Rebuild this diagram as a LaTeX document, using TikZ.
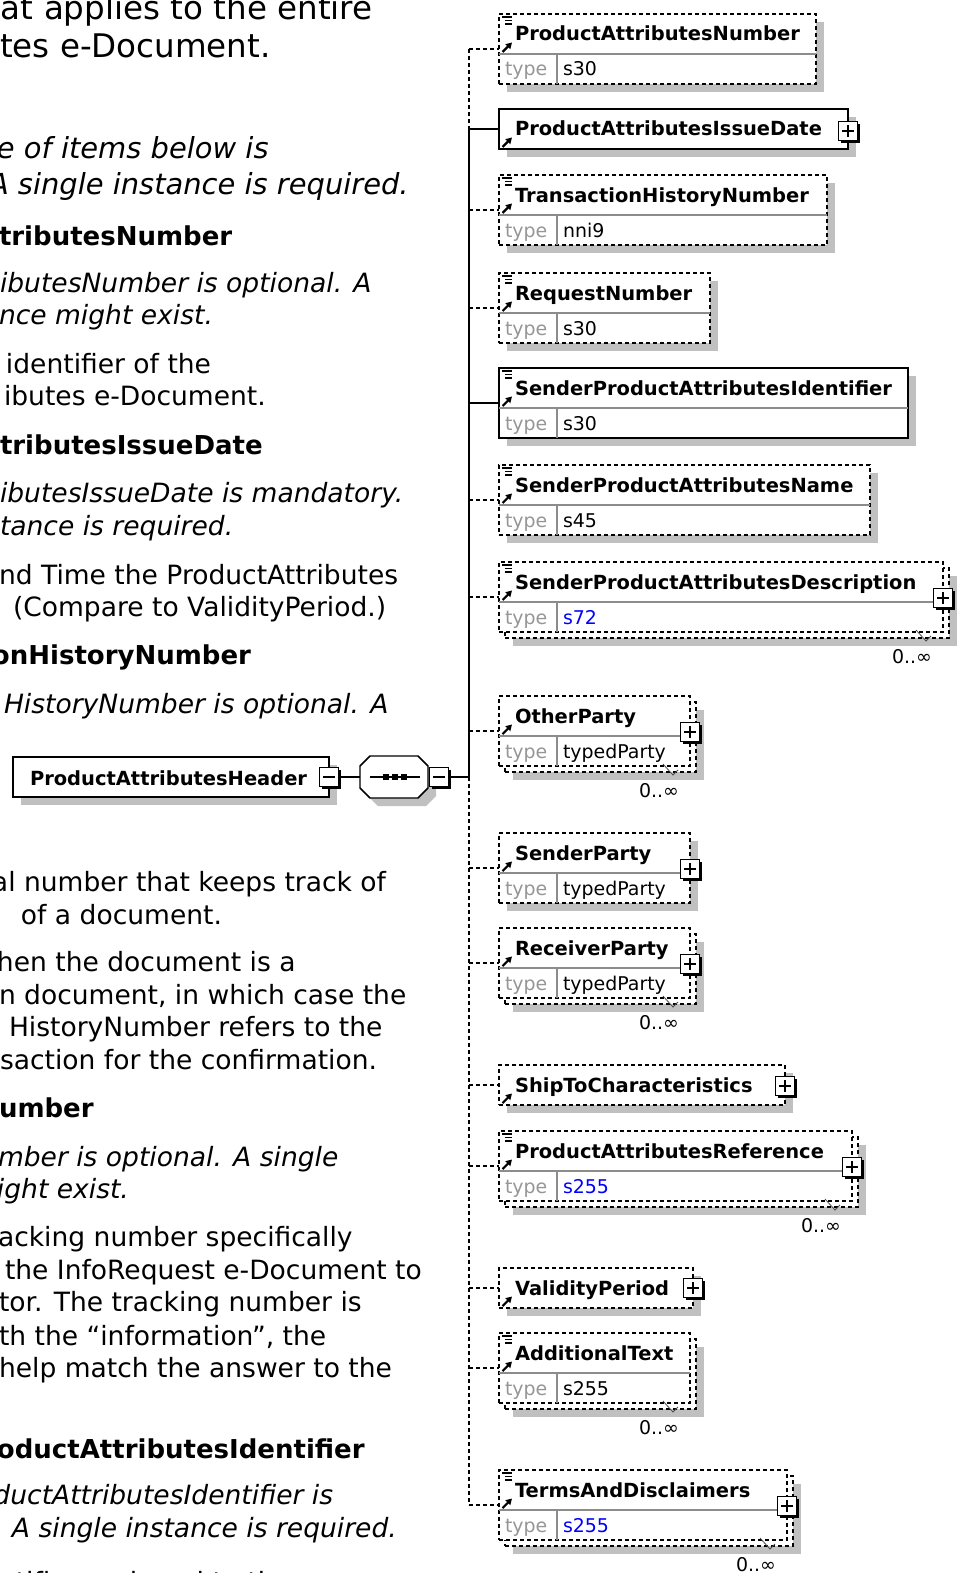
\documentclass[tikz,border=0pt]{standalone}
\usepackage{fontspec}
\setmainfont{DejaVu Sans}
\usetikzlibrary{fit,shadows,arrows.meta}
\definecolor{shadowgray}{RGB}{192,192,192}
\definecolor{divgray}{RGB}{140,140,140}
\definecolor{typegray}{RGB}{150,150,150}
\definecolor{valblue}{RGB}{0,0,255}
\newcommand\lbody{\fontsize{19.9}{23}\selectfont}
\newcommand\lbodyb{\fontsize{19.5}{23}\selectfont}
\newcommand\lmid{\fontsize{21.7}{26}\selectfont}
\newcommand\lbig{\fontsize{24.4}{29}\selectfont}
\newcommand\dname{\fontsize{14.6}{17}\selectfont\bfseries}
\newcommand\dtype{\fontsize{14.2}{17}\selectfont}
\tikzset{
  every node/.style={inner sep=0pt, outer sep=0pt},
  ltext/.style={anchor=base west, font=\lbody},
  lbigtext/.style={anchor=base west, font=\lbig},
  lital/.style={anchor=base west, font=\lbody\itshape},
  lmidital/.style={anchor=base west, font=\lmid\itshape},
  lbold/.style={anchor=base west, font=\lbodyb\bfseries},
  dashpat/.style={dash pattern=on 3pt off 2.25pt},
  boxshadow/.style={general shadow={fill=shadowgray, shadow xshift=6pt, shadow yshift=-6pt}},
  reqbox/.style={draw=black, fill=white, line width=1.1pt},
  optbox/.style={draw=black, fill=white, line width=0.9pt, dashpat},
  divline/.style={draw=divgray, line width=0.8pt},
  ename/.style={anchor=base west, font=\dname},
  tlabel/.style={anchor=base west, font=\dtype, text=typegray},
  tval/.style={anchor=base west, font=\dtype},
  occ/.style={anchor=base east, font=\dtype},
  conreq/.style={draw=black, line width=1.1pt},
  conopt/.style={draw=black, line width=1.1pt, dashpat},
  refarrow/.style={draw=black, line width=1.6pt, -{Triangle[length=4.5pt,width=5pt]}},
  iconline/.style={draw=black, line width=1pt},
  occtick/.style={draw=black!70, line width=0.6pt},
  pmbox/.style={draw=black, fill=white, line width=0.8pt, minimum size=14.5pt,
    general shadow={fill=black, shadow xshift=1.8pt, shadow yshift=-1.8pt}},
  plussign/.style={path picture={\draw[line width=0.9pt]
    ([xshift=3pt]path picture bounding box.west) -- ([xshift=-3pt]path picture bounding box.east)
    ([yshift=-3pt]path picture bounding box.north) -- ([yshift=3pt]path picture bounding box.south);}},
  minussign/.style={path picture={\draw[line width=0.9pt]
    ([xshift=3pt]path picture bounding box.west) -- ([xshift=-3pt]path picture bounding box.east);}},
}
\newcommand\elemtwo[6]{%
  \node[#4, fit={(499,#2)(#3,#2+70)}] (#1) {};
  \draw[divline] (499,#2+40) -- (#3,#2+40);
  \draw[divline] (557,#2+40) -- (557,#2+70);
  \node[ename] (#1-n) at (515,#2+27) {#5};
  \node[tlabel] (#1-t) at (505,#2+62) {type};
  \node[tval] (#1-v) at (563,#2+62) {#6};
  \draw[refarrow] (502.5,#2+38) -- (512,#2+28.5);
}
\newcommand\elemone[5]{%
  \node[#4, fit={(499,#2)(#3,#2+40)}] (#1) {};
  \node[ename] (#1-n) at (515,#2+27) {#5};
  \draw[refarrow] (502.5,#2+38) -- (512,#2+28.5);
}
\newcommand\simpicon[1]{%
  \draw[iconline] (502,#1+3) -- (512,#1+3) (505,#1+6.5) -- (512,#1+6.5) (505,#1+10) -- (512,#1+10);
}
\newcommand\backbox[3]{%
  \node[optbox, boxshadow, fit={(505,#2+6)(#3+6,#2+76)}] (#1-back) {};
}
\newcommand\plusbox[3]{%
  \node[pmbox, plussign] (#1-plus) at (#2,#3) {};
}
\newcommand\occlabel[3]{%
  \draw[occtick] (#3-27,#2+68) -- (#3-17,#2+79) -- (#3-12,#2+74);
  \node[occ] (#1-occ) at (#3-11,#2+101) {0..∞};
}
\begin{document}
\begin{tikzpicture}[x=0.75pt,y=-0.75pt]
\useasboundingbox (0,0) rectangle (958,1573);
\clip (0,0) rectangle (958,1573);
% ---- left text ----
\node[lbigtext] (l1) at (1,20) {at applies to the entire};
\node[lbigtext] (l2) at (0,58) {tes e-Document.};
\node[lmidital] (l3) at (-3,159) {e of items below is};
\node[lmidital] (l4) at (-11,195) {A single instance is required.};
\node[lbold] (l5) at (-1,245) {tributesNumber};
\node[lital] (l6) at (0,292) {ibutesNumber is optional. A};
\node[lital] (l7) at (-1,324) {nce might exist.};
\node[ltext] (l8) at (6,373) {identifier of the};
\node[ltext] (l9) at (4,405) {ibutes e-Document.};
\node[lbold] (l10) at (0,454) {tributesIssueDate};
\node[lital] (l11) at (0,502) {ibutesIssueDate is mandatory.};
\node[lital] (l12) at (0,535) {tance is required.};
\node[ltext] (l13) at (-1,584) {nd Time the ProductAttributes};
\node[ltext] (l14) at (13,616) {(Compare to ValidityPeriod.)};
\node[lbold] (l15) at (-8,664) {onHistoryNumber};
\node[lital] (l16) at (4,713) {HistoryNumber is optional. A};
\node[ltext] (l17) at (-8,891) {al number that keeps track of};
\node[ltext] (l18) at (21,924) {of a document.};
\node[ltext] (l19) at (-3,971) {hen the document is a};
\node[ltext] (l20) at (-1,1004) {n document, in which case the};
\node[ltext] (l21) at (9,1036) {HistoryNumber refers to the};
\node[ltext] (l22) at (0,1069) {saction for the confirmation.};
\node[lbold] (l23) at (-1,1117) {umber};
\node[lital] (l24) at (-2,1166) {mber is optional. A single};
\node[lital] (l25) at (-3,1198) {ight exist.};
\node[ltext] (l26) at (-2,1246) {acking number specifically};
\node[ltext] (l27) at (5,1279) {the InfoRequest e-Document to};
\node[ltext] (l28) at (-1,1311) {tor. The tracking number is};
\node[ltext] (l29) at (-1,1345) {th the “information”, the};
\node[ltext] (l30) at (-1,1377) {help match the answer to the};
\node[lbold] (l31) at (-3,1458) {oductAttributesIdentifier};
\node[lital] (l32) at (-6.5,1504) {ductAttributesIdentifier is};
\node[lital] (l33) at (12,1537) {A single instance is required.};
\node[ltext] (l34) at (-1,1591) {ntifier assigned to the};
% ---- header and sequence ----
\node[reqbox, boxshadow, fit={(13,757)(329,797)}] (hdr) {};
\node[ename] (hdr-n) at (30,785) {ProductAttributesHeader};
\node[pmbox, minussign] (hdr-m) at (329,777) {};
\fill[shadowgray] (378,764) -- (426,764) -- (436,774) -- (436,796) -- (426,806) -- (378,806) -- (368,796) -- (368,774) -- cycle;
\draw[fill=white, line width=1.1pt] (370,756) -- (418,756) -- (428,766) -- (428,788) -- (418,798) -- (370,798) -- (360,788) -- (360,766) -- cycle;
\node[fit={(360,756)(428,798)}] (seq) {};
\draw[line width=1.1pt] (370,777) -- (420,777);
\foreach \xx in {386,395,404} \fill (\xx-2.7,774) rectangle (\xx+2.7,780);
\node[pmbox, minussign] (seq-m) at (439,777) {};
% ---- elements ----
\elemtwo{pan}{14}{816}{optbox,boxshadow}{ProductAttributesNumber}{s30}\simpicon{14}
\elemone{paid}{109}{848}{reqbox,boxshadow}{ProductAttributesIssueDate}\plusbox{paid}{848}{131}
\elemtwo{thn}{175}{827}{optbox,boxshadow}{TransactionHistoryNumber}{nni9}\simpicon{175}
\elemtwo{rn}{273}{710}{optbox,boxshadow}{RequestNumber}{s30}\simpicon{273}
\elemtwo{spai}{368}{908}{reqbox,boxshadow}{SenderProductAttributesIdentifier}{s30}\simpicon{368}
\elemtwo{span}{465}{870}{optbox,boxshadow}{SenderProductAttributesName}{s45}\simpicon{465}
\backbox{spad}{562}{943}
\elemtwo{spad}{562}{943}{optbox}{SenderProductAttributesDescription}{\textcolor{valblue}{s72}}\simpicon{562}
\plusbox{spad}{943}{598}\occlabel{spad}{562}{943}
\backbox{op}{696}{690}
\elemtwo{op}{696}{690}{optbox}{OtherParty}{typedParty}
\plusbox{op}{690}{732}\occlabel{op}{696}{690}
\elemtwo{sp}{833}{690}{optbox,boxshadow}{SenderParty}{typedParty}\plusbox{sp}{690}{869}
\backbox{rp}{928}{690}
\elemtwo{rp}{928}{690}{optbox}{ReceiverParty}{typedParty}
\plusbox{rp}{690}{964}\occlabel{rp}{928}{690}
\elemone{stc}{1065}{785}{optbox,boxshadow}{ShipToCharacteristics}\plusbox{stc}{785}{1086}
\backbox{par}{1131}{852}
\elemtwo{par}{1131}{852}{optbox}{ProductAttributesReference}{\textcolor{valblue}{s255}}\simpicon{1131}
\plusbox{par}{852}{1167}\occlabel{par}{1131}{852}
\elemone{vp}{1268}{693}{optbox,boxshadow}{ValidityPeriod}\plusbox{vp}{693}{1288}
\backbox{adt}{1333}{690}
\elemtwo{adt}{1333}{690}{optbox}{AdditionalText}{s255}\simpicon{1333}
\occlabel{adt}{1333}{690}
\backbox{tad}{1470}{787}
\elemtwo{tad}{1470}{787}{optbox}{TermsAndDisclaimers}{\textcolor{valblue}{s255}}\simpicon{1470}
\plusbox{tad}{787}{1506}\occlabel{tad}{1470}{787}
% ---- spine and connectors ----
\coordinate (sp-c) at (469,777);
\coordinate (s-pan) at (469,49);
\coordinate (s-paid) at (469,129);
\coordinate (s-thn) at (469,210);
\coordinate (s-rn) at (469,308);
\coordinate (s-spai) at (469,403);
\coordinate (s-span) at (469,500);
\coordinate (s-spad) at (469,597);
\coordinate (s-op) at (469,731);
\coordinate (s-sp) at (469,868);
\coordinate (s-rp) at (469,963);
\coordinate (s-stc) at (469,1085);
\coordinate (s-par) at (469,1166);
\coordinate (s-vp) at (469,1288);
\coordinate (s-adt) at (469,1368);
\coordinate (s-tad) at (469,1505);
\draw[conreq] (hdr-m.east) -- (seq.west);
\draw[conreq] (seq-m.east) -- (sp-c);
\draw[conopt] (s-pan) -- (s-paid);
\draw[conreq] (s-paid) -- (sp-c);
\draw[conopt] (sp-c) -- (s-tad);
\draw[conopt] (s-pan) -- (pan.west);
\draw[conreq] (s-paid) -- (paid.west);
\draw[conopt] (s-thn) -- (thn.west);
\draw[conopt] (s-rn) -- (rn.west);
\draw[conreq] (s-spai) -- (spai.west);
\draw[conopt] (s-span) -- (span.west);
\draw[conopt] (s-spad) -- (spad.west);
\draw[conopt] (s-op) -- (op.west);
\draw[conopt] (s-sp) -- (sp.west);
\draw[conopt] (s-rp) -- (rp.west);
\draw[conopt] (s-stc) -- (stc.west);
\draw[conopt] (s-par) -- (par.west);
\draw[conopt] (s-vp) -- (vp.west);
\draw[conopt] (s-adt) -- (adt.west);
\draw[conopt] (s-tad) -- (tad.west);
\end{tikzpicture}
\end{document}
